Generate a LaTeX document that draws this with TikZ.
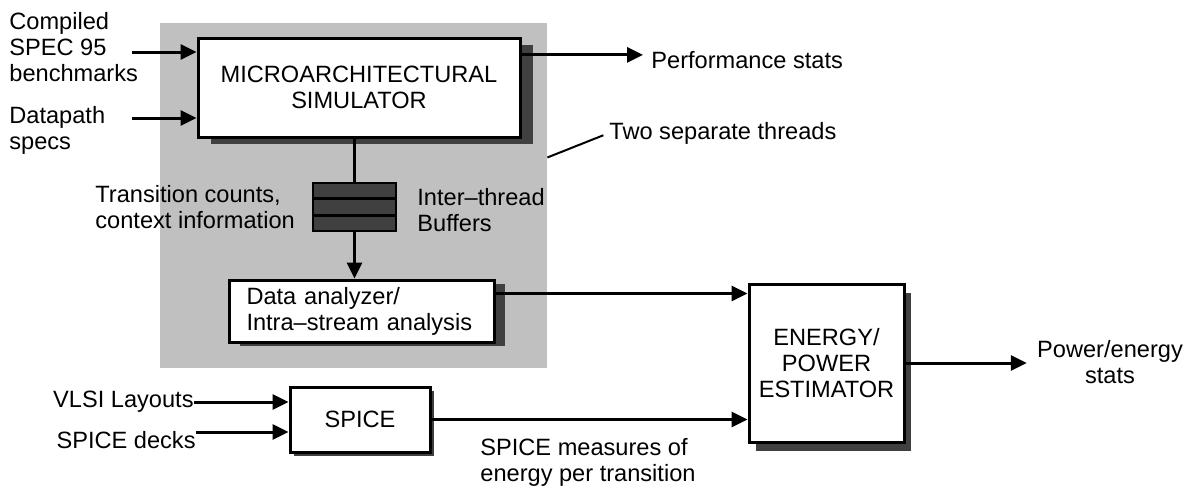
\documentclass[tikz,border=0pt]{standalone}
\usepackage{fontspec}
\setmainfont{Liberation Sans}
\usetikzlibrary{arrows.meta,shadows,calc}
\definecolor{threadgray}{HTML}{C0C0C0}
\definecolor{shadowgray}{HTML}{404040}
\begin{document}
\begin{tikzpicture}[x=0.5pt,y=-0.5pt,
		every node/.style={font=\fontsize{11.8}{13}\selectfont},
		block/.style={draw, line width=1.5pt, fill=white, inner sep=0pt, align=center},
		blockshadow/.style 2 args={drop shadow={shadow xshift=#1, shadow yshift=#2, fill=shadowgray, opacity=1}},
		arrow/.style={line width=1.5pt, -{Triangle[length=8pt,width=7.5pt]}},
		wire/.style={line width=1.5pt},
		lbl/.style={inner sep=0pt, align=left}
	]
	\useasboundingbox (0,0) rectangle (1192,489);
	% the two threads
	\node[fill=threadgray, minimum width=193.5pt, minimum height=172.5pt, inner sep=0pt] (threads) at (353.5,195.5) {};
	\node[block, blockshadow={6.5pt}{-3.5pt}, minimum width=161pt, minimum height=49.5pt] (sim) at (359,87.5) {MICROARCHITECTURAL\\SIMULATOR};
	\node[draw, line width=1.3pt, fill=shadowgray, minimum width=41.5pt, minimum height=24pt, inner sep=0pt] (buf) at (354.5,207) {};
	\foreach \f in {1/3,2/3}
		\draw[line width=1.1pt] ($(buf.north west)!\f!(buf.south west)$) -- ($(buf.north east)!\f!(buf.south east)$);
	\node[block, blockshadow={5.5pt}{-2pt}, align=left, text width=115pt, inner xsep=8.75pt, minimum height=31pt] (data) at (361.5,311) {Data analyzer/\\Intra--stream analysis};
	\node[block, blockshadow={3.5pt}{-4.5pt}, minimum width=77.5pt, minimum height=79pt] (energy) at (826.5,363) {ENERGY/\\POWER\\ESTIMATOR};
	\node[block, blockshadow={2pt}{-2pt}, minimum width=70pt, minimum height=32.5pt] (spice) at (360,419.5) {SPICE};
	% labels
	\node[lbl, anchor=west] (spec) at (9,47) {Compiled\\SPEC 95\\benchmarks};
	\node[lbl, anchor=west] (dpath) at (9,130) {Datapath\\specs};
	\node[lbl, anchor=west] (trans) at (95,207) {Transition counts,\\context information};
	\node[lbl, anchor=west] (inter) at (417,210) {Inter--thread\\Buffers};
	\node[lbl, anchor=west] (perf) at (651,60) {Performance stats};
	\node[lbl, anchor=west] (two) at (609,133) {Two separate threads};
	\node[lbl, align=center] (pwr) at (1110,362) {Power/energy\\stats};
	\node[lbl, anchor=east] (vlsi) at (194,402) {VLSI Layouts};
	\node[lbl, anchor=east] (decks) at (196,440) {SPICE decks};
	\node[lbl, anchor=west] (meas) at (480,462) {SPICE measures of\\energy per transition};
	\coordinate (specin) at (132,52);
	\coordinate (dpathin) at (132,118);
	% connectors
	\draw[arrow] (specin) -- (specin -| sim.west);
	\draw[arrow] (dpathin) -- (dpathin -| sim.west);
	\draw[arrow, shorten >=4pt] ($(sim.north east)!0.18!(sim.south east)$) coordinate (pout) -- (pout -| perf.west);
	\draw[wire] (sim.south -| buf.north) -- (buf.north);
	\draw[arrow] (buf.south) -- (buf.south |- data.north);
	\draw[arrow] ($(data.north east)!0.23!(data.south east)$) coordinate (dout) -- (dout -| energy.west);
	\draw[arrow] (spice.east) -- (spice.east -| energy.west);
	\draw[arrow, shorten >=5pt] (energy.east) -- (energy.east -| pwr.west);
	\draw[arrow] (vlsi.east) -- (vlsi.east -| spice.west);
	\draw[arrow] ([yshift=4pt]decks.east) -- ([yshift=4pt]decks.east -| spice.west);
	\draw[line width=1pt, shorten >=3pt] ($(threads.north east)!0.39!(threads.south east)$) -- (two.west);
\end{tikzpicture}
\end{document}
